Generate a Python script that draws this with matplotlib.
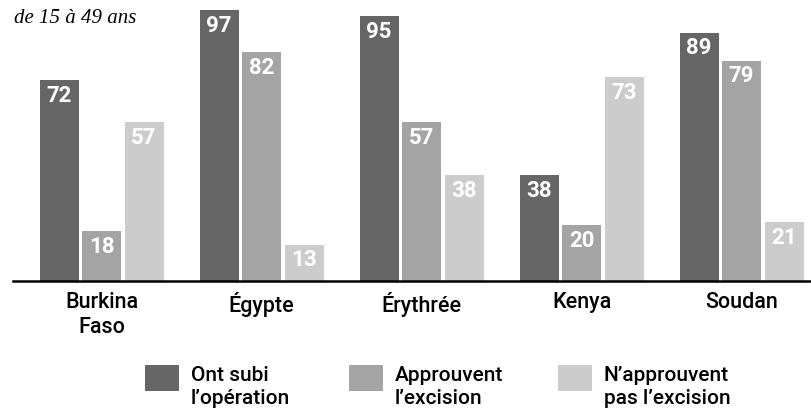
import numpy as np
import matplotlib
matplotlib.use("Agg")
from matplotlib import pyplot as plt
from matplotlib.patches import Rectangle

# données
pays = ["Burkina\nFaso", "Égypte", "Érythrée", "Kenya", "Soudan"]
ont_subi = [72, 97, 95, 38, 89]
approuvent = [18, 82, 57, 20, 79]
n_approuvent_pas = [57, 13, 38, 73, 21]
series_labels = ["Ont subi\nl’opération", "Approuvent\nl’excision", "N’approuvent\npas l’excision"]
couleurs = ["#666666", "#a4a4a4", "#cccccc"]

W, H = 812, 409
fig = plt.figure(figsize=(W / 100, H / 100), dpi=100)
sans = ["Roboto", "DejaVu Sans"]

# axes: baseline at y=281 px, group centres every 160 px starting at 101.5 px
ax = fig.add_axes([13 / W, (H - 281) / H, 799 / W, 281 / H])
x = np.arange(len(pays))
bw = 39 / 160
step = 42.5 / 160
series = [ont_subi, approuvent, n_approuvent_pas]
for i, (vals, c) in enumerate(zip(series, couleurs)):
    pos = x + (i - 1) * step
    ax.bar(pos, vals, width=bw, color=c, linewidth=0)
    for px, v in zip(pos, vals):
        ax.text(px, v - 1.7, str(v), ha="center", va="top", color="white",
                fontsize=16, fontweight="bold", family=sans)

ax.set_xlim((13 - 101.5) / 160, (812 - 101.5) / 160)
ax.set_ylim(0, 281 / 2.79)
for s in ["top", "right", "left"]:
    ax.spines[s].set_visible(False)
ax.spines["bottom"].set_linewidth(1.8)
ax.spines["bottom"].set_color("black")
ax.set_yticks([])
ax.set_xticks(x)
ax.set_xticklabels(pays, fontsize=15.5, family=sans, fontweight="medium", linespacing=1.25)
ax.tick_params(axis="x", length=0, pad=8)

# sous-titre
fig.text(14 / W, 1 - 23 / H, "de 15 à 49 ans", fontsize=15, style="italic",
         family=["Liberation Serif", "DejaVu Serif"], ha="left", va="baseline")

# légende
leg_x = [145, 349, 558]
for lx, c, lab in zip(leg_x, couleurs, series_labels):
    fig.add_artist(Rectangle((lx / W, 1 - 391 / H), 34 / W, 26 / H,
                             transform=fig.transFigure, color=c, linewidth=0))
    fig.text((lx + 46) / W, 1 - 366 / H, lab, fontsize=15, family=sans,
             fontweight="medium", ha="left", va="top", linespacing=1.3)

fig.savefig("out.png", dpi=100)
